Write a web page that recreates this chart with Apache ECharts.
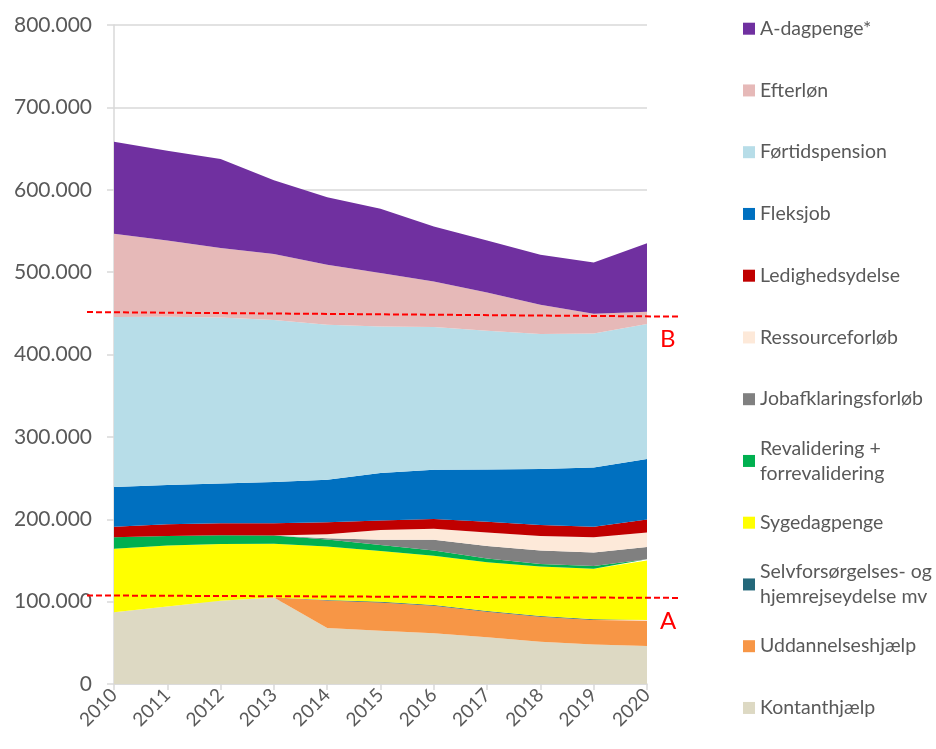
<!DOCTYPE html>
<html>
<head>
<meta charset="utf-8">
<script src="https://cdn.jsdelivr.net/npm/echarts@6/dist/echarts.min.js"></script>
<style>
  html, body { margin: 0; padding: 0; background: #fff; }
  #chart { width: 936px; height: 749px; }
</style>
</head>
<body>
<div id="chart"></div>
<script>
const years = ['2010', '2011', '2012', '2013', '2014', '2015', '2016', '2017', '2018', '2019', '2020'];

// stacked bottom -> top
const kontanthjaelp    = [87100, 94000, 101000, 105000, 68000, 64500, 61500, 56700, 51400, 47800, 46200];
const uddannelse       = [0, 0, 0, 0, 33500, 34500, 33500, 31000, 30200, 29800, 30500];
const selvforsoergelse = [0, 0, 0, 0, 500, 1000, 1000, 1000, 1000, 1000, 1000];
const sygedagpenge     = [77200, 74000, 69000, 65400, 64800, 61500, 59800, 59100, 59900, 61400, 72100];
const revalidering     = [13700, 11800, 10600, 9800, 8700, 7300, 6200, 4500, 3200, 3300, 1600];
const jobafklaring     = [0, 0, 0, 0, 1500, 6200, 13000, 15300, 16300, 16200, 15000];
const ressource        = [0, 0, 0, 0, 4800, 12000, 13600, 16200, 17800, 18500, 17600];
const ledighed         = [13000, 14200, 14400, 14800, 14500, 11400, 11800, 13200, 13200, 13000, 15600];
const fleksjob         = [48300, 47700, 48300, 50200, 51500, 57600, 59600, 63300, 68000, 71700, 73400];
const foertid          = [206100, 204100, 201700, 196700, 188200, 178000, 173300, 168500, 164000, 162800, 163900];
const efterloen        = [101200, 92700, 84200, 80200, 72900, 64800, 55400, 46500, 35300, 23900, 14900];
const adagpenge        = [111700, 108900, 108100, 89400, 82100, 78100, 66700, 63100, 60700, 62300, 83400];

const yTicks = { min: 0, max: 800000, interval: 100000 };

// reference lines A and B (value at left end, value at right end)
const lineA = [107500, 104500];
const lineB = [451500, 446000];

const seriesDefs = [
  { name: 'Kontanthjælp', data: kontanthjaelp, color: '#DDD9C3' },
  { name: 'Uddannelseshjælp', data: uddannelse, color: '#F79646' },
  { name: 'Selvforsørgelses- og hjemrejseydelse mv', label: 'Selvforsørgelses- og\nhjemrejseydelse mv', data: selvforsoergelse, color: '#24687A' },
  { name: 'Sygedagpenge', data: sygedagpenge, color: '#FFFF00' },
  { name: 'Revalidering + forrevalidering', label: 'Revalidering +\nforrevalidering', data: revalidering, color: '#00B050' },
  { name: 'Jobafklaringsforløb', data: jobafklaring, color: '#808080' },
  { name: 'Ressourceforløb', data: ressource, color: '#FDE9D9' },
  { name: 'Ledighedsydelse', data: ledighed, color: '#C00000' },
  { name: 'Fleksjob', data: fleksjob, color: '#0070C0' },
  { name: 'Førtidspension', data: foertid, color: '#B7DDE8' },
  { name: 'Efterløn', data: efterloen, color: '#E6B9B8' },
  { name: 'A-dagpenge*', data: adagpenge, color: '#7030A0' }
];

const FONT = 'Lato, "Open Sans", sans-serif';
const TEXT_GREY = '#595959';
const AXIS_GREY = '#D9D9D9';

const fmt = v => String(v).replace(/\B(?=(\d{3})+(?!\d))/g, '.');

const chart = echarts.init(document.getElementById('chart'));

// one legend per entry so the first text line lines up with the marker
const LINE_H = 25;
const legends = seriesDefs.slice().reverse().map((s, i) => {
  const text = s.label || s.name;
  const multi = text.indexOf('\n') >= 0;
  const center = 28.7 + i * 61.75;
  return {
    orient: 'vertical',
    left: 743,
    top: multi ? center - (LINE_H * 1.5) : center - LINE_H / 2,
    padding: 0,
    itemWidth: 12,
    itemHeight: 12,
    icon: 'rect',
    selectedMode: false,
    data: [s.name],
    formatter: () => text,
    textStyle: {
      fontFamily: FONT,
      fontSize: 19.5,
      color: TEXT_GREY,
      lineHeight: LINE_H,
      padding: multi ? [LINE_H, 0, 0, 0] : 0
    }
  };
});

const option = {
  animation: false,
  backgroundColor: '#fff',
  legend: legends,
  grid: { left: 114, right: 289, top: 25, bottom: 65 },
  xAxis: {
    type: 'category',
    data: years,
    boundaryGap: false,
    axisLine: { lineStyle: { color: AXIS_GREY, width: 1.5 } },
    axisTick: { show: true, length: 6, lineStyle: { color: AXIS_GREY, width: 1.5 } },
    axisLabel: {
      rotate: 45,
      margin: 8,
      color: TEXT_GREY,
      fontFamily: FONT,
      fontSize: 19
    },
    splitLine: { show: false }
  },
  yAxis: {
    type: 'value',
    min: yTicks.min,
    max: yTicks.max,
    interval: yTicks.interval,
    axisLine: { show: true, lineStyle: { color: AXIS_GREY, width: 1.5 } },
    axisTick: { show: true, length: 7, lineStyle: { color: AXIS_GREY, width: 1.5 } },
    axisLabel: {
      margin: 22,
      color: TEXT_GREY,
      fontFamily: FONT,
      fontSize: 21,
      formatter: v => fmt(v)
    },
    splitLine: { lineStyle: { color: AXIS_GREY, width: 1.5 } }
  },
  series: seriesDefs.map(s => ({
    name: s.name,
    type: 'line',
    stack: 'total',
    data: s.data,
    showSymbol: false,
    symbol: 'none',
    lineStyle: { width: 0 },
    itemStyle: { color: s.color },
    areaStyle: { color: s.color, opacity: 1 },
    emphasis: { disabled: true }
  }))
};

chart.setOption(option);

// red dashed reference lines, placed with the y scale
const refLine = (vals, letter) => {
  const y0 = chart.convertToPixel({ yAxisIndex: 0 }, vals[0]);
  const y1 = chart.convertToPixel({ yAxisIndex: 0 }, vals[1]);
  return [
    {
      type: 'line',
      z: 100,
      shape: { x1: 87, y1: y0, x2: 680, y2: y1 },
      style: { stroke: '#FF0000', lineWidth: 2, lineDash: [6, 3] }
    },
    {
      type: 'text',
      z: 100,
      x: 660,
      y: y1 + 23,
      style: {
        text: letter,
        fill: '#FF0000',
        font: '24px ' + FONT,
        verticalAlign: 'middle'
      }
    }
  ];
};

chart.setOption({ graphic: [...refLine(lineA, 'A'), ...refLine(lineB, 'B')] });
</script>
</body>
</html>
